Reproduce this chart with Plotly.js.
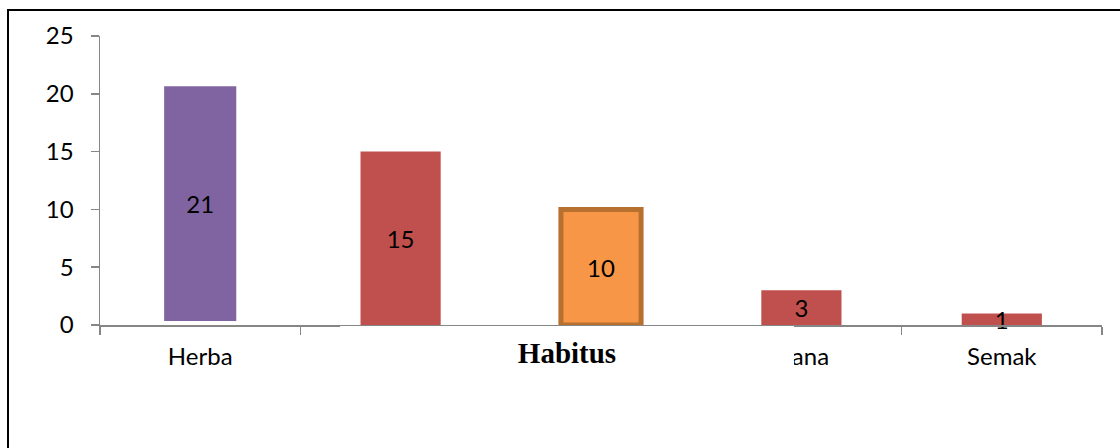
<!DOCTYPE html>
<html>
<head>
<meta charset="utf-8">
<script src="https://cdn.plot.ly/plotly-3.0.1.min.js"></script>
<style>
  html, body { margin: 0; padding: 0; background: #ffffff; }
  #wrap { position: relative; width: 1120px; height: 448px; overflow: hidden; }
  #chart { position: absolute; left: 0; top: 0; width: 1120px; height: 448px; }
  #frame { position: absolute; left: 7px; top: 9px; width: 2000px; height: 2000px;
           border: 2px solid #000; pointer-events: none; box-sizing: border-box; }
</style>
</head>
<body>
<div id="wrap">
  <div id="chart"></div>
  <div id="frame"></div>
</div>
<script>
// Data
const categories = ["Herba", "Pohon", "Perdu", "Liana", "Semak"];
const values = [21, 15, 10, 3, 1];
const labels = ["21", "15", "10", "3", "1"];
const barColors = ["#8064A2", "#C0504D", "#F79646", "#C0504D", "#C0504D"];
const lineColors = ["#FFFFFF", "#C0504D", "#B8702F", "#C0504D", "#C0504D"];
const lineWidths = [8, 0, 5, 0, 0];
const yTicks = [0, 5, 10, 15, 20, 25];
const axisTitle = "Habitus";

const FONT = "Lato, 'Open Sans', sans-serif";

const trace = {
  type: "bar",
  x: categories,
  y: values,
  text: labels,
  textposition: "inside",
  insidetextanchor: "middle",
  textangle: 0,
  constraintext: "none",
  textfont: { family: FONT, size: 24, color: "#000000" },
  marker: { color: barColors, line: { color: lineColors, width: lineWidths } },
  width: 0.4,
  hoverinfo: "skip",
  cliponaxis: false
};

const layout = {
  width: 1120,
  height: 448,
  margin: { l: 100, r: 18, t: 36, b: 123 },
  paper_bgcolor: "rgba(0,0,0,0)",
  plot_bgcolor: "rgba(0,0,0,0)",
  showlegend: false,
  font: { family: FONT, size: 24, color: "#000000" },
  xaxis: {
    type: "category",
    showline: true,
    linecolor: "#868686",
    linewidth: 1.5,
    ticks: "outside",
    tickson: "boundaries",
    ticklen: 8,
    tickwidth: 1.5,
    tickcolor: "#868686",
    showgrid: false,
    zeroline: false,
    ticklabelstandoff: 10,
    tickfont: { family: FONT, size: 24, color: "#000000" }
  },
  yaxis: {
    range: [0, 25],
    tickvals: yTicks,
    ticktext: yTicks.map(String),
    showline: true,
    linecolor: "#868686",
    linewidth: 1.5,
    ticks: "outside",
    ticklen: 8,
    tickwidth: 1.5,
    tickcolor: "#868686",
    showgrid: false,
    zeroline: false,
    ticklabelstandoff: 12,
    tickfont: { family: FONT, size: 24, color: "#000000" }
  },
  annotations: [{
    text: "<b>" + axisTitle + "</b>",
    xref: "paper", yref: "paper",
    x: 0.2395, y: 0,
    xanchor: "left", yanchor: "top",
    width: 454, height: 54,
    align: "center", valign: "middle",
    bgcolor: "#FFFFFF",
    borderpad: 0, borderwidth: 0,
    showarrow: false,
    yshift: -0.5,
    font: { family: "'Liberation Serif', 'Times New Roman', serif", size: 29, color: "#000000" }
  }]
};

Plotly.newPlot("chart", [trace], layout, { displayModeBar: false, staticPlot: true });
</script>
</body>
</html>
